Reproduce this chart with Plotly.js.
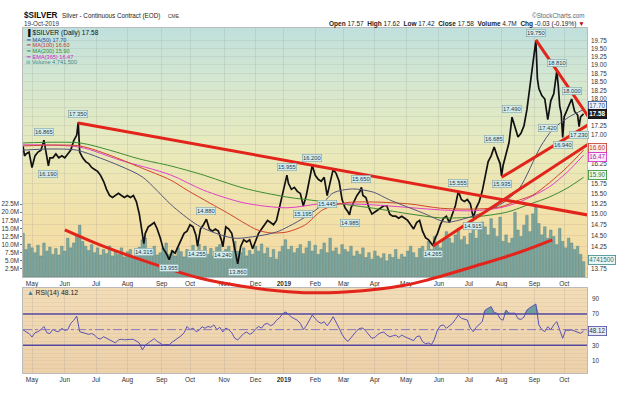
<!DOCTYPE html>
<html><head><meta charset="utf-8">
<script src="https://cdn.plot.ly/plotly-3.0.1.min.js"></script>
<style>
html,body{margin:0;padding:0;background:#fff;width:630px;height:395px;overflow:hidden}
#wrap{position:relative;width:630px;height:395px}
#bgMain{position:absolute;left:23px;top:28px;width:564px;height:249px;background:linear-gradient(to bottom,#c0e0dd 0%,#d5e7d0 22%,#e8eabc 48%,#f2e1aa 75%,#f5d9a1 100%)}
#bgRsi{position:absolute;left:23px;top:288px;width:564px;height:85px;background:linear-gradient(to bottom,#f2dcb8 0%,#ecd1ab 100%)}
#chart{position:absolute;left:0;top:0;width:630px;height:395px}
</style></head><body>
<div id="wrap"><div id="bgMain"></div><div id="bgRsi"></div><div id="chart"></div></div>
<script>
// ---------- DATA (x = trading-day index, 0 = 1 May 2018) ----------
const monthIdx = [0,22,43,64,87,106,129,150,169,190,209,230,251,273,293,315,337,357];
const monthLbl = ['May','Jun','Jul','Aug','Sep','Oct','Nov','Dec','<b>2019</b>','Feb','Mar','Apr','May','Jun','Jul','Aug','Sep','Oct'];

const priceIdx = [
 -6,-5,-4,-2,0,2,4,6,8,9,
 10,11,12,14,16,18,20,22,24,26,
 28,30,31,32,34,36,38,40,42,44,
 46,48,50,52,54,56,58,60,62,64,
 66,68,70,72,74,75,76,78,80,82,
 84,86,88,90,92,94,96,98,100,102,
 104,106,108,110,111,113,115,117,119,121,
 123,125,127,128,130,132,134,136,138,140,
 142,144,146,148,150,152,154,156,158,160,
 162,164,166,168,170,171,172,174,176,178,
 180,182,184,186,188,190,192,194,196,198,
 200,202,204,206,208,210,212,213,214,216,
 218,220,221,222,224,226,228,230,232,234,
 236,238,240,242,244,246,248,250,252,254,
 256,258,260,262,264,266,268,269,270,272,
 274,276,278,280,282,284,286,288,290,292,
 294,296,298,300,302,304,306,308,310,312,
 314,315,316,318,320,322,324,326,328,330,
 332,334,336,338,339,340,342,344,346,348,
 350,352,353,354,355,356,357,358,360,362,
 364,366,367,368,370];
const priceClose = [
 16.70,16.45,16.50,16.55,16.15,16.45,16.55,16.60,16.865,16.60,
 16.45,16.19,16.40,16.40,16.50,16.40,16.45,16.40,16.50,16.60,
 16.85,17.00,17.35,16.55,16.40,16.30,16.25,16.15,16.10,16.05,
 15.95,15.80,15.60,15.45,15.40,15.45,15.50,15.45,15.40,15.45,
 15.40,15.45,15.30,15.00,14.50,14.315,14.55,14.70,14.75,14.80,
 14.65,14.45,14.20,14.10,13.955,14.15,14.10,14.25,14.40,14.55,
 14.60,14.75,14.70,14.50,14.255,14.65,14.75,14.88,14.65,14.60,
 14.65,14.60,14.40,14.24,14.70,14.65,14.55,14.20,13.86,14.25,
 14.40,14.35,14.40,14.20,14.40,14.55,14.65,14.75,14.85,14.80,
 14.75,14.85,15.15,15.50,15.75,15.955,15.75,15.60,15.65,15.55,
 15.50,15.195,15.45,15.80,16.20,15.95,15.85,15.80,15.90,15.445,
 15.75,16.10,16.00,15.80,15.35,15.15,15.05,14.985,15.15,15.30,
 15.45,15.55,15.65,15.45,15.40,15.15,15.00,15.05,15.10,15.15,
 15.20,15.20,15.00,14.95,14.95,14.90,14.95,14.90,14.85,14.75,
 14.65,14.80,14.85,14.60,14.45,14.40,14.30,14.265,14.40,14.55,
 14.75,14.90,14.95,14.80,15.00,15.20,15.555,15.35,15.30,15.35,
 15.25,14.915,15.15,15.30,15.55,15.95,16.30,16.45,16.685,16.45,
 16.25,15.935,16.20,16.50,16.80,17.49,17.20,16.95,17.05,17.25,
 17.70,18.35,18.90,19.75,18.60,18.30,18.10,18.00,17.42,17.95,
 18.15,18.81,18.40,17.80,17.60,16.94,17.50,17.60,17.75,18.00,
 17.65,17.55,17.23,17.50,17.58];

// volume in millions, every 2nd trading day starting at index -6
const volumeM = [
 13.5,8.5,10.2,9.0,
 7.5,9.8,6.5,10.5,8.0,9.2,7.0,8.8,6.8,9.5,
 8.0,12.0,9.0,10.5,13.0,16.0,11.0,9.5,8.2,10.0,
 7.5,9.0,6.8,8.5,7.2,9.6,6.5,8.0,7.0,9.0,6.2,
 7.8,8.5,6.0,7.5,9.2,11.5,12.0,8.5,7.0,9.5,6.8,
 7.5,9.0,10.5,7.0,8.2,6.5,9.0,7.8,6.2,8.5,7.0,
 9.8,7.5,10.2,8.0,9.5,7.0,8.8,6.5,9.2,10.0,7.5,
 8.5,9.5,7.0,11.0,8.0,7.5,9.0,6.5,8.2,7.0,9.5,
 8.0,10.2,7.2,9.0,6.0,8.5,5.5,7.8,9.5,11.5,8.5,
 9.5,7.5,8.8,10.0,7.2,9.0,11.0,8.0,9.8,7.0,8.5,
 10.5,7.5,12.0,8.0,9.0,7.0,10.0,8.5,7.8,9.5,6.5,
 8.0,7.0,9.0,6.0,7.5,5.5,8.0,6.5,5.8,7.2,5.0,
 7.0,6.0,8.5,5.5,7.0,6.2,8.0,9.5,7.5,6.0,8.8,
 9.5,7.8,11.0,8.5,12.5,10.0,9.0,11.5,14.0,12.0,10.5,
 13.0,15.0,11.5,12.5,10.0,13.5,16.0,12.0,14.5,17.0,15.5,
 13.0,18.0,15.0,12.5,18.5,11.0,13.0,10.5,12.0,20.0,14.5,
 12.5,16.0,19.0,14.0,19.5,21.6,16.5,13.0,15.5,12.0,14.5,
 12.5,10.0,15.0,11.0,9.0,12.0,10.5,8.5,9.5,7.0,4.74];

// RSI(14), every 2nd trading day starting at index -6
const rsiVal = [
 49.6,47,45,40.6,
 46,47.4,50,54,46,45,50.4,48,47.5,51.7,
 49,50,58,62,67.4,47.4,46,45,44,45,
 43,39,38,41,39,37,35,33,37,37.7,37,
 36.8,37.5,37.7,35.5,33,24,30,33,36,38.5,35,
 33,30.3,31,30.5,34,36.5,40,42,46,54,50,
 52,47.5,49,53.8,51.7,54,53,56,50,53,47,
 52,50,46,39,36.8,41,45,47,44,46,51,
 54,52,57,58,55,57,62,65,70,72.5,70,
 66,64,62,58,50,55,62,68.7,64,60,58,
 60,55,60,66.6,60,52,44,38,35,40,45,
 49,51.7,52,48,44,39,40,44,46,47,43,
 41,42,43,40,43,41,39,38,36,41,42,
 34.6,32,33,31,38,49.6,55,56,51.7,55,58,
 63,68.7,64.5,63,62.3,52,47.4,53,57,60.2,75,
 77,79.4,72,70.9,64,62,75,71,71,71,64,
 63,66,75,78,81,82.8,56,50,47.4,53.8,50,
 56,60.2,48,38.9,49.6,49,49.6,48,47.4,45.3,48.12];

// moving averages
const ma50Idx = [-6,12,30,46,59,74,95,113,135,148,164,180,193,202,215,229,240,262,278,292,302,316,327,341,349,360,370];
const ma50Val = [16.60,16.63,16.60,16.39,16.19,15.91,15.17,14.70,14.44,14.47,14.58,14.86,15.17,15.51,15.61,15.53,15.34,15.03,14.81,14.91,15.03,15.27,15.63,16.68,17.14,17.49,17.70];
const ma100Idx = [-6,32,52,72,93,104,119,131,151,160,171,183,195,210,229,254,274,296,314,327,336,347,359,370];
const ma100Val = [16.71,16.71,16.47,16.16,15.83,15.58,15.27,15.03,14.63,14.56,14.58,14.74,15.10,15.27,15.29,15.24,15.14,15.12,15.17,15.34,15.46,15.76,16.16,16.60];
const ma200Idx = [-6,32,52,72,93,113,142,171,193,229,254,274,296,319,334,347,359,370];
const ma200Val = [16.79,16.79,16.60,16.37,16.19,15.98,15.63,15.41,15.31,15.14,15.00,14.91,14.93,15.05,15.24,15.41,15.63,15.90];
const ema365Idx = [-6,32,59,93,115,142,171,195,229,274,296,314,327,336,347,359,370];
const ema365Val = [16.74,16.68,16.34,15.96,15.58,15.27,15.15,15.25,15.22,15.10,15.08,15.15,15.29,15.44,15.66,16.03,16.47];

// labelled swing highs / lows
const swingIdx = [8,11,31,75,92,111,117,128,138,171,182,188,198,213,221,269,286,296,310,315,322,338,346,352,356,362,367];
const swingPx  = [16.865,16.19,17.35,14.315,13.955,14.255,14.88,14.24,13.86,15.955,15.195,16.2,15.445,14.985,15.65,14.265,15.555,14.915,16.685,15.935,17.49,19.75,17.42,18.81,16.94,18.0,17.23];
const swingUp  = [1,0,1,0,0,0,1,0,0,1,0,1,0,0,1,0,1,0,1,0,1,1,0,1,0,1,0];

// hand-drawn red trend lines (trading-day index, price)
const tlDownIdx = [31,374],  tlDownPx = [17.33,14.97];
const tlTopIdx  = [338,374], tlTopPx  = [19.77,17.46];
const tlBotIdx  = [315,374], tlBotPx  = [15.90,17.30];
const tlRiseIdx = [269,374], tlRisePx = [14.26,16.78];
const arcIdx = [22,46,68,90,113,141,166,187,210,233,250,265,298,327,349];
const arcPx  = [14.63,14.28,14.01,13.77,13.55,13.38,13.28,13.24,13.26,13.32,13.40,13.51,13.82,14.12,14.40];

// right price axis: '' where the value tags cover the label in the reference
const priceTickVals = [13.75,14.00,14.25,14.50,14.75,15.00,15.25,15.50,15.75,16.00,16.25,16.50,16.75,17.00,17.25,17.50,17.75,18.00,18.25,18.50,18.75,19.00,19.25,19.50,19.75];
const priceTickText = ['13.75','','14.25','14.50','14.75','15.00','15.25','15.50','15.75','','16.25','','','17.00','17.25','','','18.00','18.25','18.50','18.75','19.00','19.25','19.50','19.75'];
const volTicksM = [2.5,5,7.5,10,12.5,15,17.5,20,22.5];
const rsiTicks = [10,30,70,90];

// ---------- LAYOUT GEOMETRY ----------
const W=630,H=395,L=23,R=587,T=28,B=373,MAIN_BOT=277,RSI_TOP=288,ARC_BOT=300;
const fy = p => (B-p)/(B-T);
const fx = p => (p-L)/(R-L);
const X0=-6.04, X1=372.3;
const P_TOP=1.30417, P_BOT=1.13279;
const pxPerDec=(MAIN_BOT-T)/(P_TOP-P_BOT);
const P4_BOT=P_TOP-(ARC_BOT-T)/pxPerDec;
const VOL_TOP=76.85e6;
const RSI_MIN=-5.4, RSI_MAX=103.2;
const FONT='Liberation Sans, Arial, sans-serif';

const volIdx = volumeM.map((_,i)=>-6+2*i);
const rsiIdx = rsiVal.map((_,i)=>-6+2*i);

const traces = [];
traces.push({type:'bar',x:volIdx,y:volumeM.map(v=>v*1e6),xaxis:'x',yaxis:'y',width:1.75,
  marker:{color:'rgba(116,163,160,0.92)',line:{color:'rgba(72,118,116,0.9)',width:0.4}},hoverinfo:'skip'});
traces.push({type:'scatter',mode:'lines',x:priceIdx,y:priceClose,xaxis:'x',yaxis:'y3',
  line:{color:'#111',width:1.7},hoverinfo:'skip'});
const maLine=(x,y,c,w)=>({type:'scatter',mode:'lines',x:x,y:y,xaxis:'x',yaxis:'y3',
  line:{color:c,width:w,shape:'spline',smoothing:0.8},hoverinfo:'skip'});
traces.push(maLine(ma200Idx,ma200Val,'#3b8b2f',1));
traces.push(maLine(ema365Idx,ema365Val,'#e040c8',1));
traces.push(maLine(ma100Idx,ma100Val,'#d2452a',1));
traces.push(maLine(ma50Idx,ma50Val,'#55557a',1));

// RSI
traces.push({type:'scatter',mode:'lines',x:rsiIdx,y:rsiIdx.map(()=>70),xaxis:'x2',yaxis:'y2',line:{width:0,color:'rgba(0,0,0,0)'},hoverinfo:'skip'});
traces.push({type:'scatter',mode:'lines',x:rsiIdx,y:rsiVal.map(v=>Math.max(v,70)),xaxis:'x2',yaxis:'y2',fill:'tonexty',fillcolor:'rgba(70,140,150,0.75)',line:{width:0,color:'rgba(0,0,0,0)'},hoverinfo:'skip'});
traces.push({type:'scatter',mode:'lines',x:rsiIdx,y:rsiVal,xaxis:'x2',yaxis:'y2',line:{color:'#5a52b4',width:1},hoverinfo:'skip'});

// red trend lines on an extended overlay subplot
const red=(x,y,spline)=>({type:'scatter',mode:'lines',x:x,y:y,xaxis:'x4',yaxis:'y4',
  line:{color:'#e2241b',width:3,shape:spline?'spline':'linear'},hoverinfo:'skip'});
traces.push(red(tlDownIdx,tlDownPx));
traces.push(red(tlTopIdx,tlTopPx));
traces.push(red(tlBotIdx,tlBotPx));
traces.push(red(tlRiseIdx,tlRisePx));
traces.push(red(arcIdx,arcPx,true));

const ann=[];
// header
ann.push({xref:'paper',yref:'paper',x:fx(22),y:fy(16),xanchor:'left',yanchor:'middle',showarrow:false,
  text:'<b>$SILVER</b>',font:{family:FONT,size:8.2,color:'#111'}});
ann.push({xref:'paper',yref:'paper',x:fx(60),y:fy(16.5),xanchor:'left',yanchor:'middle',showarrow:false,
  text:'Silver - Continuous Contract (EOD)',font:{family:FONT,size:6.3,color:'#222'}});
ann.push({xref:'paper',yref:'paper',x:fx(166),y:fy(16.5),xanchor:'left',yanchor:'middle',showarrow:false,
  text:'CME',font:{family:FONT,size:5,color:'#333'}});
ann.push({xref:'paper',yref:'paper',x:fx(22),y:fy(24),xanchor:'left',yanchor:'middle',showarrow:false,
  text:'19-Oct-2019',font:{family:FONT,size:6.3,color:'#333'}});
ann.push({xref:'paper',yref:'paper',x:1,y:fy(15.5),xanchor:'right',yanchor:'middle',showarrow:false,
  text:'©StockCharts.com',font:{family:FONT,size:6.3,color:'#666'}});
ann.push({xref:'paper',yref:'paper',x:1,y:fy(24),xanchor:'right',yanchor:'middle',showarrow:false,
  text:'<b>Open</b> 17.57  <b>High</b> 17.62  <b>Low</b> 17.42  <b>Close</b> 17.58  <b>Volume</b> 4.7M  <b>Chg</b> -0.03 (-0.19%) <span style="color:#c00000">▼</span>',
  font:{family:FONT,size:6.5,color:'#222'}});

// legend
const legRows=[['<b>▐</b> $SILVER (Daily) 17.58','#111',6.6,33.5],['━ MA(50) 17.70','#2a4a9a',5.6,39.6],
 ['━ MA(100) 16.60','#c0392b',5.6,45.3],['━ MA(200) 15.90','#2e8b2e',5.6,51],
 ['━ EMA(365) 16.47','#d126c8',5.6,56.7],['ılı Volume 4,741,500','#3f8888',5.6,62.4]];
legRows.forEach(r=>ann.push({xref:'paper',yref:'paper',x:fx(25),y:fy(r[3]),xanchor:'left',yanchor:'middle',
  showarrow:false,text:r[0],font:{family:FONT,size:r[2],color:r[1]},borderpad:0}));
ann.push({xref:'paper',yref:'paper',x:fx(25),y:fy(292.5),xanchor:'left',yanchor:'middle',showarrow:false,
  text:'<span style="color:#3d7f9a">▲</span> RSI(14) 48.12',font:{family:FONT,size:6.8,color:'#222'}});

// swing labels
swingIdx.forEach((xi,i)=>ann.push({xref:'x',yref:'y3',x:xi,y:Math.log10(swingPx[i]),
  text:swingPx[i].toFixed(3),showarrow:false,yshift:swingUp[i]?8:-8,
  font:{family:FONT,size:5.8,color:'#1f3b4d'},bgcolor:'#d4ecec',bordercolor:'#7fa3a3',borderwidth:0.6,borderpad:0.4}));

// right-edge value tags
const tag=(txt,yref,yv,bc,fc,bg,ys)=>ann.push({xref:'paper',yref:yref,x:1,y:yv,xanchor:'left',yanchor:'middle',xshift:1,yshift:ys,
  text:txt,showarrow:false,font:{family:FONT,size:6.3,color:fc},bgcolor:bg,bordercolor:bc,borderwidth:0.8,borderpad:0.5});
tag('17.70','y3',Math.log10(17.70),'#2a4a9a','#2a4a9a','#eef3fb',3.5);
tag('<b>17.58</b>','y3',Math.log10(17.58),'#000','#fff','#1e1e1e',-0.5);
tag('16.60','y3',Math.log10(16.60),'#c0392b','#c0392b','#fbeeee',2);
tag('16.47','y3',Math.log10(16.47),'#d126c8','#b020a8','#fbeefa',-2);
tag('15.90','y3',Math.log10(15.90),'#2e8b2e','#2e7b2e','#eef8ee',2);
tag('4741500','y',4741500,'#3f8888','#2f6f6f','#eaf5f5',2);
tag('48.12','y2',48.12,'#4a4aa0','#333','#e8eaf8',0);

const shapes=[
 {type:'line',xref:'x2 domain',yref:'y2',x0:0,x1:1,y0:70,y1:70,line:{color:'#5548a0',width:1.4}},
 {type:'line',xref:'x2 domain',yref:'y2',x0:0,x1:1,y0:30,y1:30,line:{color:'#5548a0',width:1.4}},
 {type:'line',xref:'x2 domain',yref:'y2',x0:0,x1:1,y0:50,y1:50,line:{color:'#7a6fc0',width:0.9,dash:'dashdot'}}
];

const xBase={range:[X0,X1],tickmode:'array',tickvals:monthIdx,ticktext:monthLbl,showgrid:true,
  gridcolor:'rgba(140,140,140,0.3)',gridwidth:0.6,showline:true,mirror:true,linecolor:'#aaa',linewidth:0.8,
  ticks:'',zeroline:false,tickfont:{family:FONT,size:6.5,color:'#333'},fixedrange:true};

const layout={
 width:W,height:H,margin:{l:L,r:W-R,t:T,b:H-B,pad:0},
 paper_bgcolor:'rgba(0,0,0,0)',plot_bgcolor:'rgba(0,0,0,0)',showlegend:false,
 font:{family:FONT},
 xaxis:Object.assign({},xBase,{domain:[0,1],anchor:'y'}),
 xaxis2:Object.assign({},xBase,{domain:[0,1],anchor:'y2',matches:'x'}),
 xaxis4:{domain:[0,1],anchor:'y4',range:[X0,X1],visible:false,fixedrange:true},
 yaxis:{domain:[fy(MAIN_BOT),1],anchor:'x',side:'left',range:[0,VOL_TOP],tickmode:'array',
   tickvals:volTicksM.map(v=>v*1e6),ticktext:volTicksM.map(v=>v.toFixed(1)+'M'),showgrid:false,zeroline:false,
   showline:true,mirror:true,linecolor:'#aaa',linewidth:0.8,ticks:'outside',ticklen:2,tickcolor:'#777',
   tickfont:{family:FONT,size:6.3,color:'#333'},fixedrange:true},
 yaxis3:{overlaying:'y',anchor:'x',side:'right',type:'log',range:[P_BOT,P_TOP],tickmode:'array',
   tickvals:priceTickVals,ticktext:priceTickText,showgrid:true,gridcolor:'rgba(140,140,140,0.25)',gridwidth:0.6,
   zeroline:false,showline:false,ticks:'',ticklabelstandoff:3,tickfont:{family:FONT,size:6.3,color:'#333'},fixedrange:true},
 yaxis2:{domain:[0,fy(RSI_TOP)],anchor:'x2',side:'right',range:[RSI_MIN,RSI_MAX],tickmode:'array',tickvals:rsiTicks,
   showgrid:false,zeroline:false,showline:true,mirror:true,linecolor:'#aaa',linewidth:0.8,ticks:'',ticklabelstandoff:3,
   tickfont:{family:FONT,size:6.3,color:'#333'},fixedrange:true,
   minor:{tickmode:'linear',tick0:0,dtick:5,showgrid:true,gridcolor:'rgba(170,135,95,0.22)',gridwidth:0.5,ticks:''}},
 yaxis4:{domain:[fy(ARC_BOT),1],anchor:'x4',type:'log',range:[P4_BOT,P_TOP],visible:false,fixedrange:true},
 annotations:ann,shapes:shapes
};
Plotly.newPlot('chart',traces,layout,{staticPlot:true,displayModeBar:false});
</script></body></html>
